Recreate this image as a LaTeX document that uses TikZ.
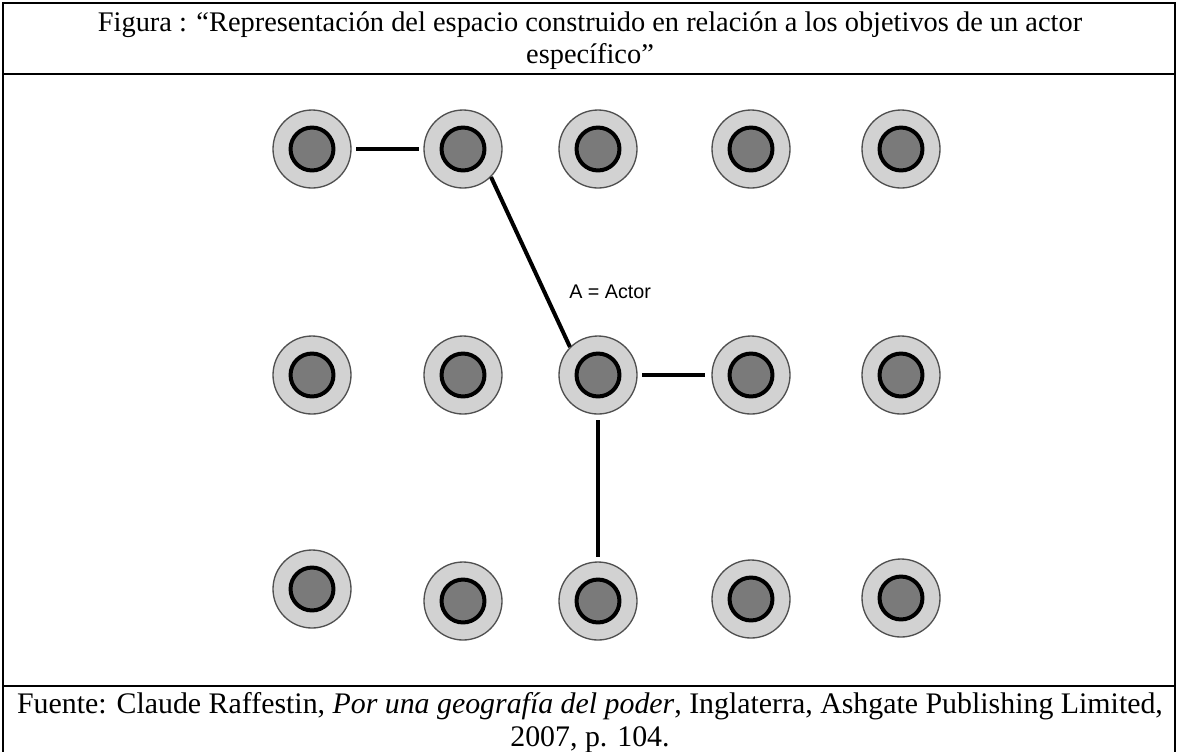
\documentclass[tikz,border=0pt]{standalone}
\usepackage{fontspec}
\setmainfont{Liberation Serif}
\newfontfamily\sansf{Liberation Sans}
\definecolor{ringfill}{HTML}{D2D2D2}
\definecolor{ringline}{HTML}{505050}
\definecolor{corefill}{HTML}{7A7A7A}
\tikzset{
  site/.style={circle, minimum size=58.5pt, inner sep=0pt, draw=ringline, line width=1pt, fill=ringfill,
    path picture={\draw[draw=black, line width=3pt, fill=corefill] (path picture bounding box.center) circle (16.1pt);}},
  link/.style={line width=3pt, black},
  frame/.style={line width=1.5pt, black},
  headtext/.style={font=\fontsize{21.3}{24}\selectfont, inner sep=0pt},
  foottext/.style={font=\fontsize{22.4}{24}\selectfont, inner sep=0pt}
}
\begin{document}
\begin{tikzpicture}[x=0.75pt, y=-0.75pt]
\useasboundingbox (0,0) rectangle (1178,751);
% frame
\coordinate (tl) at (3,3);
\coordinate (tr) at (1175,3);
\coordinate (bl) at (3,760);
\coordinate (br) at (1175,760);
\coordinate (hl) at (3,74);
\coordinate (hr) at (1175,74);
\coordinate (fl) at (3,686);
\coordinate (fr) at (1175,686);
\draw[frame] (bl) -- (tl) -- (tr) -- (br);
\draw[frame] (hl) -- (hr);
\draw[frame] (fl) -- (fr);
% header
\node[headtext, anchor=base] (h1) at (590,31) {Figura : “Representación del espacio construido en relación a los objetivos de un actor};
\node[headtext, anchor=base] (h2) at (590,63) {específico”};
% footer
\node[foottext, anchor=base] (f1) at (590,713) {Fuente: Claude Raffestin, \textit{Por una geografía del poder}, Inglaterra, Ashgate Publishing Limited,};
\node[foottext, anchor=base] (f2) at (590,746) {2007, p. 104.};
% sites
\node[site] (a1) at (312,149) {};
\node[site] (a2) at (463,149) {};
\node[site] (a3) at (598,149) {};
\node[site] (a4) at (751,149) {};
\node[site] (a5) at (901,149) {};
\node[site] (b1) at (312,375) {};
\node[site] (b2) at (463,375) {};
\node[site] (b3) at (598,375) {};
\node[site] (b4) at (751,375) {};
\node[site] (b5) at (901,375) {};
\node[site] (c1) at (312,589) {};
\node[site] (c2) at (463,601) {};
\node[site] (c3) at (598,601) {};
\node[site] (c4) at (751,599) {};
\node[site] (c5) at (901,598) {};
% links
\draw[link, shorten <=3.5pt, shorten >=3.5pt] (a1) -- (a2);
\draw[link] (a2.-45) -- (b3.135);
\draw[link, shorten <=3.5pt, shorten >=5pt] (b3) -- (b4);
\draw[link, shorten <=4pt, shorten >=3.5pt] (b3) -- (c3);
% label
\node[font=\sansf\fontsize{14.8}{16}\selectfont, anchor=base west, inner sep=0pt] (lab) at (569,298) {A = Actor};
\end{tikzpicture}
\end{document}
